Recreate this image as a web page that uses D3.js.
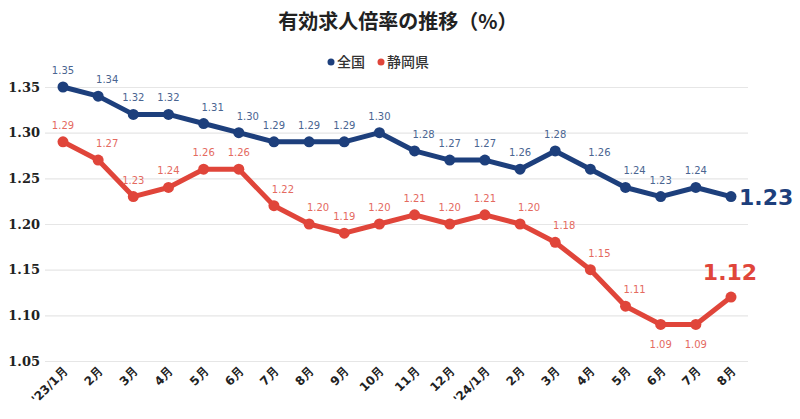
<!DOCTYPE html>
<html><head><meta charset="utf-8">
<script src="https://cdn.jsdelivr.net/npm/d3@7"></script>
<style>body{margin:0;background:#fff;} svg{display:block;}</style>
</head><body>
<svg id="c" width="800" height="419"></svg>
<script>
const categories = ["'23/1月","2月","3月","4月","5月","6月","7月","8月","9月","10月","11月","12月","'24/1月","2月","3月","4月","5月","6月","7月","8月"];
const national = [1.35,1.34,1.32,1.32,1.31,1.30,1.29,1.29,1.29,1.30,1.28,1.27,1.27,1.26,1.28,1.26,1.24,1.23,1.24,1.23];
const shizuoka = [1.29,1.27,1.23,1.24,1.26,1.26,1.22,1.20,1.19,1.20,1.21,1.20,1.21,1.20,1.18,1.15,1.11,1.09,1.09,1.12];
const yTicks = [1.05,1.10,1.15,1.20,1.25,1.30,1.35];
const seriesNames = ["全国","静岡県"];
const title = "有効求人倍率の推移（%）";

const svg = d3.select("#c");
const blue = "#1d3f7c", red = "#e0453a";
const blueLbl = "#4a6591", redLbl = "#e46a5f";

const x = d3.scalePoint().domain(d3.range(categories.length)).range([63, 731]);
const y = d3.scaleLinear().domain([1.05, 1.35]).range([361, 87]);

// title
svg.append("text").attr("x", 398).attr("y", 29).attr("text-anchor","middle")
  .attr("font-family","'Noto Sans CJK JP'").attr("font-weight","700").attr("font-size",20).attr("fill","#222")
  .text(title);

// legend
const leg = [{n:seriesNames[0],c:blue,x:331},{n:seriesNames[1],c:red,x:381}];
leg.forEach(l=>{
  svg.append("circle").attr("cx",l.x).attr("cy",62).attr("r",3.5).attr("fill",l.c);
  svg.append("text").attr("x",l.x+6).attr("y",67).attr("font-family","'Noto Sans CJK JP'").attr("font-weight","500")
    .attr("font-size",14).attr("fill","#333").text(l.n);
});

// grid
const grid = svg.append("g").attr("transform","translate(45,0)")
  .call(d3.axisLeft(y).tickValues(yTicks).tickSize(-703).tickFormat(d3.format(".2f")));
grid.select(".domain").remove();
grid.selectAll(".tick line").attr("stroke","#e6e6e6").attr("stroke-width",1.2);
grid.selectAll(".tick text").attr("x",-5).attr("font-family","'DejaVu Serif'").attr("font-weight","bold")
  .attr("font-size",13).attr("fill","#222");

// x axis
const xa = svg.append("g").attr("transform","translate(0,361)")
  .call(d3.axisBottom(x).tickSize(0).tickFormat(i=>categories[i]));
xa.select(".domain").remove();
xa.selectAll(".tick text").attr("text-anchor","end").attr("dy",0).attr("y",0)
  .attr("transform","translate(5,11) rotate(-45)")
  .attr("font-family","'DejaVu Sans'").attr("font-weight","bold").attr("font-size",12).attr("fill","#222");

function drawSeries(vals, col, lblCol, below){
  const line = d3.line().x((d,i)=>x(i)).y(d=>y(d));
  svg.append("path").datum(vals).attr("d",line).attr("fill","none").attr("stroke",col)
    .attr("stroke-width",5).attr("stroke-linejoin","round");
  svg.selectAll(null).data(vals).enter().append("circle")
    .attr("cx",(d,i)=>x(i)).attr("cy",d=>y(d)).attr("r",5.5).attr("fill",col);
  const n = vals.length;
  svg.selectAll(null).data(vals.slice(0,n-1)).enter().append("text")
    .attr("x",(d,i)=>{
      const desc = i>0 && vals[i-1]>d && vals[i+1]<d;
      return x(i) + (desc ? 9 : 0);
    })
    .attr("y",(d,i)=> below(d,i) ? y(d)+24 : y(d)-13)
    .attr("text-anchor","middle").attr("font-family","'DejaVu Sans'").attr("font-size",10)
    .attr("fill",lblCol).text(d=>d.toFixed(2));
}
drawSeries(national, blue, blueLbl, ()=>false);
drawSeries(shizuoka, red, redLbl, (d,i)=> i>0 && i<shizuoka.length-1 && shizuoka[i-1]>=d && shizuoka[i+1]>=d && d<1.10);

// emphasized last values
const li = categories.length-1;
svg.append("text").attr("x",x(li)+8).attr("y",y(national[li])+8).attr("font-family","'DejaVu Sans'")
  .attr("font-weight","bold").attr("font-size",22).attr("fill",blue).text(national[li].toFixed(2));
svg.append("text").attr("x",x(li)-1).attr("y",y(shizuoka[li])-17).attr("text-anchor","middle").attr("font-family","'DejaVu Sans'")
  .attr("font-weight","bold").attr("font-size",22).attr("fill",red).text(shizuoka[li].toFixed(2));
</script>
</body></html>
